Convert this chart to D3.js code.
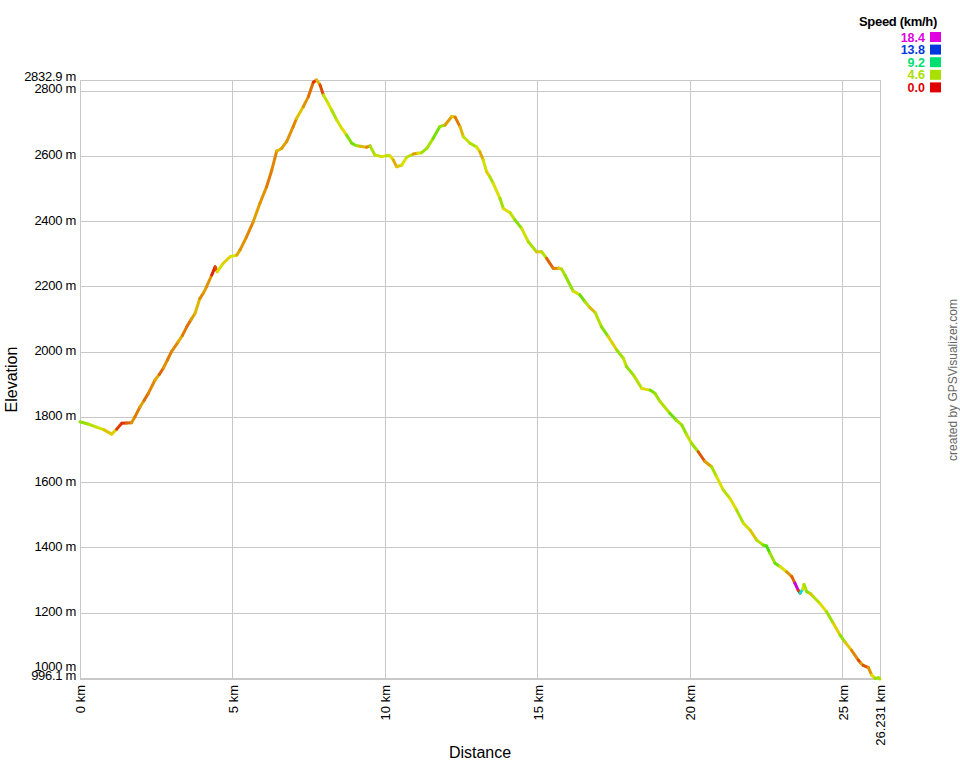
<!doctype html>
<html lang="en">
<head>
	<meta charset="UTF-8">
	<title>Elevation profile</title>
	<script src="https://d3js.org/d3.v7.min.js"></script>
	<style>
		body { margin: 0; background: #fff; }
		text { font-family: "Liberation Sans", Arial, sans-serif; }
	</style>
</head>
<body>
<div id="myDiv"></div>
<script>
// track data (distance km, elevation m, speed km/h)
var distKm = [0.00,0.26,0.52,0.79,1.04,1.20,1.37,1.52,1.69,1.80,1.97,2.10,2.24,2.46,2.60,2.73,2.87,3.00,3.22,3.36,
	3.50,3.64,3.77,3.93,4.05,4.15,4.32,4.43,4.50,4.60,4.70,4.92,5.14,5.25,5.46,5.68,5.90,6.12,6.29,6.45,
	6.61,6.78,6.99,7.10,7.32,7.49,7.65,7.76,7.87,7.98,8.14,8.25,8.42,8.58,8.74,8.91,9.05,9.18,9.40,9.51,
	9.67,9.89,10.05,10.16,10.27,10.38,10.55,10.71,10.93,11.07,11.20,11.37,11.58,11.80,11.97,12.19,12.30,12.46,12.57,12.79,
	13.00,13.11,13.22,13.33,13.44,13.55,13.77,13.88,14.10,14.26,14.48,14.70,14.97,15.14,15.30,15.52,15.70,15.79,15.90,16.17,
	16.39,16.56,16.72,16.89,17.10,17.32,17.60,17.82,17.92,18.15,18.42,18.69,18.85,19.02,19.34,19.55,19.73,19.89,20.05,20.27,
	20.49,20.71,20.87,21.09,21.31,21.53,21.75,21.97,22.19,22.40,22.51,22.62,22.79,22.95,23.17,23.34,23.44,23.55,23.61,23.70,
	23.74,23.83,23.95,24.04,24.26,24.48,24.70,24.92,25.08,25.30,25.52,25.60,25.68,25.85,25.96,26.07,26.18,26.231];
var elevM = [1785,1778,1769,1760,1747,1762,1780,1781,1782,1800,1831,1850,1872,1913,1930,1949,1975,2000,2030,2050,
	2076,2098,2117,2163,2180,2199,2235,2260,2245,2258,2271,2291,2296,2312,2352,2398,2455,2506,2557,2615,
	2623,2645,2690,2715,2751,2782,2826,2832.9,2818,2787,2761,2741,2710,2685,2664,2639,2632,2630,2627,2631,
	2603,2598,2601,2601,2588,2567,2572,2596,2606,2608,2610,2623,2654,2690,2695,2721,2719,2690,2659,2639,
	2628,2613,2588,2552,2536,2516,2470,2439,2426,2404,2378,2337,2306,2306,2286,2255,2256,2253,2235,2186,
	2174,2153,2135,2120,2076,2046,2005,1979,1954,1928,1887,1882,1872,1847,1811,1790,1775,1746,1719,1693,
	1663,1647,1617,1576,1550,1514,1474,1453,1422,1407,1404,1382,1351,1341,1325,1310,1290,1268,1259,1272,
	1286,1264,1258,1249,1228,1202,1167,1131,1110,1084,1054,1045,1038,1031,1008,998,1000,996.1];
var speedKmh = [4.8,5.0,4.4,4.0,3.2,3.4,1.0,0.8,1.6,2.4,2.0,2.6,1.8,2.2,2.8,1.6,2.4,2.0,2.2,2.8,
	2.0,1.8,2.6,3.0,2.2,2.6,2.4,0.6,1.2,3.6,4.0,3.4,3.8,2.8,2.4,2.2,2.6,2.4,2.0,2.2,
	3.0,2.6,2.4,2.2,3.2,2.4,1.8,0.8,3.0,1.2,4.2,3.8,4.6,4.0,3.6,5.2,5.6,4.8,3.0,2.2,
	4.6,4.2,3.8,4.4,3.6,2.8,3.2,3.8,4.4,2.6,3.6,4.8,4.6,5.4,4.8,2.6,3.2,2.0,3.0,4.2,
	4.6,3.8,2.8,4.0,3.4,4.6,3.8,4.8,3.6,4.2,5.2,4.0,4.6,3.2,4.4,1.6,2.2,3.4,4.6,5.0,
	4.0,5.6,4.4,3.0,4.4,5.2,3.4,4.8,4.2,5.0,4.4,3.6,5.4,4.8,4.4,5.6,4.6,5.0,4.2,4.8,
	1.4,2.6,4.6,3.8,4.4,3.6,4.6,4.0,3.2,4.4,5.4,6.2,4.8,5.6,3.8,2.4,1.6,18.0,1.0,11.0,
	3.8,4.6,5.2,3.2,4.4,3.6,4.8,3.4,5.0,3.2,2.2,1.2,2.6,1.4,2.4,3.6,5.0,4.6];

// axis ticks and legend
var elevTicks = [996.1,1000,1200,1400,1600,1800,2000,2200,2400,2600,2800,2832.9];
var distTicks = [0,5,10,15,20,25,26.231];
var legendSpeeds = [18.4,13.8,9.2,4.6,0.0];

var maxSpeed = 18.4;
function speedColor(s){
	return d3.hsl(Math.min(s,maxSpeed)/maxSpeed*300,1,0.44).formatHex();
}

var width=960, height=760;
var plotLeft=80, plotRight=880, plotTop=80, plotBottom=679;

var svg = d3.select("#myDiv").append("svg")
	.attr("width",width)
	.attr("height",height);

var xScale = d3.scaleLinear().domain([0,26.231]).range([plotLeft,plotRight]);
var yScale = d3.scaleLinear().domain([996.1,2832.9]).range([plotBottom,plotTop]);

// y axis + horizontal grid
var yAxis = d3.axisLeft(yScale)
	.tickValues(elevTicks)
	.tickSize(-(plotRight-plotLeft))
	.tickPadding(4)
	.tickFormat(function(d){ return d + " m"; });
var gy = svg.append("g")
	.attr("transform","translate("+plotLeft+",0)")
	.call(yAxis);
gy.select(".domain").remove();
gy.selectAll("line").attr("stroke","#c8c8c8").attr("shape-rendering","crispEdges");
gy.selectAll("text")
	.attr("fill","#000")
	.style("font-size","13px")
	.attr("letter-spacing","-0.3px")
	.attr("dy",function(d){
		if(d==1000) return "-7px";
		if(d==996.1) return "0px";
		if(d==2832.9) return "0px";
		if(d==2800) return "2px";
		return "3px";
	});

// x axis + vertical grid
var xAxis = d3.axisBottom(xScale)
	.tickValues(distTicks)
	.tickSize(-(plotBottom-plotTop))
	.tickFormat(function(d){ return d + " km"; });
var gx = svg.append("g")
	.attr("transform","translate(0,"+plotBottom+")")
	.call(xAxis);
gx.select(".domain").remove();
gx.selectAll("line").attr("stroke","#c8c8c8").attr("shape-rendering","crispEdges");
gx.selectAll("text")
	.attr("fill","#000")
	.style("font-size","13px")
	.attr("transform","rotate(-90)")
	.attr("text-anchor","end")
	.attr("x",-6)
	.attr("y",0)
	.attr("dy","0.35em");

// axis titles
svg.append("text")
	.attr("transform","translate(17,"+((plotTop+plotBottom)/2)+") rotate(-90)")
	.attr("text-anchor","middle")
	.style("font-size","16px")
	.text("Elevation");
svg.append("text")
	.attr("x",(plotLeft+plotRight)/2)
	.attr("y",758)
	.attr("text-anchor","middle")
	.style("font-size","16px")
	.text("Distance");
svg.append("text")
	.attr("transform","translate(957,380) rotate(-90)")
	.attr("text-anchor","middle")
	.attr("fill","#666")
	.style("font-size","12px")
	.text("created by GPSVisualizer.com");

// track, one segment per pair of points coloured by speed
var pts = distKm.map(function(d,i){ return {km:d, ele:elevM[i], spd:speedKmh[i]}; });
svg.append("g").selectAll("line")
	.data(d3.pairs(pts))
	.enter().append("line")
	.attr("x1",function(d){ return xScale(d[0].km); })
	.attr("y1",function(d){ return yScale(d[0].ele); })
	.attr("x2",function(d){ return xScale(d[1].km); })
	.attr("y2",function(d){ return yScale(d[1].ele); })
	.attr("stroke",function(d){ return speedColor(d[1].spd); })
	.attr("stroke-width",3)
	.attr("stroke-linecap","round");

// legend
svg.append("text")
	.attr("x",937)
	.attr("y",26)
	.attr("text-anchor","end")
	.style("font-size","13px")
	.style("font-weight","bold")
	.attr("letter-spacing","-0.3px")
	.text("Speed (km/h)");
var leg = svg.append("g").selectAll("g")
	.data(legendSpeeds)
	.enter().append("g")
	.attr("transform",function(d,i){ return "translate(0,"+(32+i*12.6)+")"; });
leg.append("rect")
	.attr("x",930).attr("y",0)
	.attr("width",11).attr("height",10)
	.attr("fill",function(d){ return speedColor(d); });
leg.append("text")
	.attr("x",925).attr("y",9.5)
	.attr("text-anchor","end")
	.style("font-size","12.5px")
	.style("font-weight","bold")
	.attr("fill",function(d){ return speedColor(d); })
	.text(function(d){ return d.toFixed(1); });
</script>
</body>
</html>
